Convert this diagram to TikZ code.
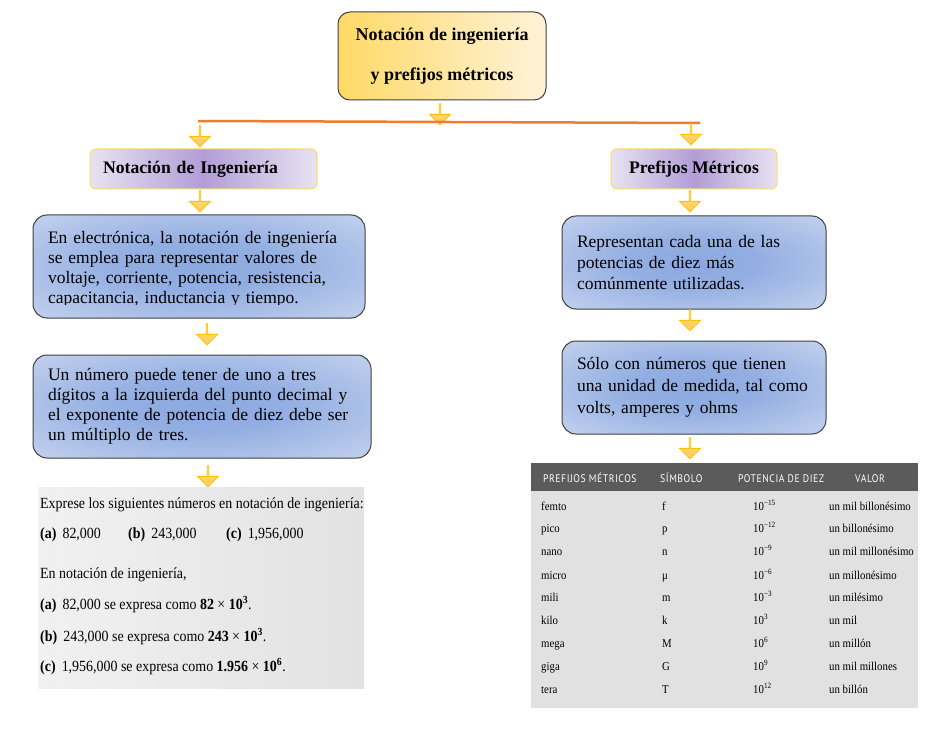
\documentclass[tikz,border=0pt]{standalone}
\usepackage{fontspec}
\setmainfont{Liberation Serif}
\newfontfamily\schmal[FakeStretch=0.9]{Liberation Serif}
\newfontfamily\kopf[FakeStretch=0.88,LetterSpace=5]{PT Sans}
\usepackage{tikz}
\usetikzlibrary{shapes.arrows}

\definecolor{rahmen}{HTML}{404040}
\definecolor{orangelinie}{HTML}{ED7D31}
\definecolor{gold}{HTML}{FFC000}
\definecolor{goldhell}{HTML}{FFE08A}
\definecolor{golddunkel}{HTML}{FFCB55}
\definecolor{titel1}{HTML}{FFD966}
\definecolor{titel2}{HTML}{FFF3D9}
\definecolor{lila1}{HTML}{B29DD6}
\definecolor{lila2}{HTML}{E8E2F1}
\definecolor{blau1}{HTML}{8CA9E0}
\definecolor{blau2}{HTML}{DCE4F4}
\definecolor{grau1}{HTML}{F1F1F1}
\definecolor{grau2}{HTML}{E2E2E2}
\definecolor{tabkopf}{HTML}{5B5B5B}
\definecolor{tabgrund}{HTML}{E1E1E1}

% Verlauf fuer die blauen Kaesten
\pgfdeclareradialshading{blauverlauf}{\pgfpoint{0bp}{0bp}}{%
  color(0bp)=(blau1); color(12bp)=(blau1!92!blau2); color(48bp)=(blau2); color(72bp)=(blau2)}

\tikzset{
  titelbox/.style={draw=rahmen, line width=1pt, rounded corners=12pt,
    left color=titel1, right color=titel2, font=\fontsize{18}{40}\selectfont\bfseries,
    align=center, inner sep=0pt},
  kopfbox/.style={draw=titel1, line width=1pt, rounded corners=6pt,
    left color=lila2, right color=lila2, middle color=lila1,
    font=\fontsize{17.7}{20}\selectfont\bfseries, inner sep=0pt},
  blaubox/.style={draw=rahmen, line width=1pt, rounded corners=14pt,
    shading=blauverlauf, align=left, inner xsep=15pt, inner ysep=0pt},
  pfeil/.style={single arrow, shape border rotate=270, draw=gold, line width=0.8pt,
    top color=goldhell, bottom color=golddunkel, minimum height=21pt,
    minimum width=21pt, single arrow head extend=5.5pt, single arrow head indent=0pt,
    inner sep=0pt},
  aufg/.style={anchor=base west, inner sep=0pt, font=\schmal\fontsize{15.5}{18}\selectfont},
  tab/.style={anchor=base west, inner sep=0pt, font=\schmal\fontsize{12}{14}\selectfont},
  tabk/.style={anchor=base west, inner sep=0pt, text=white, font=\kopf\fontsize{11}{12}\selectfont}
}

% eine Zeile der Tabelle
\newcommand{\zeile}[6]{%
  \node[tab] (#2a) at (541,#1) {#3};
  \node[tab] (#2b) at (662,#1) {#4};
  \node[tab] (#2c) at (753,#1) {#5};
  \node[tab] (#2d) at (829,#1) {#6};}

\begin{document}
\begin{tikzpicture}[x=1pt,y=-1pt]
  \useasboundingbox[fill=white] (0,0) rectangle (942,730);

  % Titel
  \node[titelbox, minimum width=208pt, minimum height=88pt] (titel) at (442,56)
    {Notación de ingeniería\\y prefijos métricos};
  \node[pfeil] (p0) at (440,114) {};

  % Verteilerlinie
  \coordinate (lA) at (198,121);
  \coordinate (lB) at (700,123);
  \draw[orangelinie, line width=2.5pt] (lA) -- (lB);
  \node[pfeil] (p1) at (200,136) {};
  \node[pfeil] (p2) at (691,134) {};

  % Kopfboxen
  \node[kopfbox, minimum width=227pt, minimum height=40pt, text width=201pt, align=left]
    (ing) at (203.5,169) {Notación de Ingeniería};
  \node[kopfbox, minimum width=166pt, minimum height=40pt]
    (pref) at (694,169) {Prefijos Métricos};
  \node[pfeil] (p3) at (200,201) {};
  \node[pfeil] (p4) at (690,201) {};

  % linke Seite
  \begin{scope}
    \node[blaubox, minimum width=332pt, minimum height=103pt, text width=302pt]
      (b1) at (199,266.5) {};
    \clip (33,215) rectangle (365,304);
    \node[align=left, text width=302pt, inner sep=0pt, font=\fontsize{17.5}{20}\selectfont]
      (t1) at (199,269) {En electrónica, la notación de ingeniería\\
      se emplea para representar valores de\\
      voltaje, corriente, potencia, resistencia,\\
      capacitancia, inductancia y tiempo.};
  \end{scope}
  \node[pfeil] (p5) at (207,334) {};
  \node[blaubox, minimum width=338pt, minimum height=103pt, text width=308pt,
    font=\fontsize{17.5}{20}\selectfont] (b2) at (202,406.5)
    {Un número puede tener de uno a tres\\
     dígitos a la izquierda del punto decimal y\\
     el exponente de potencia de diez debe ser\\
     un múltiplo de tres.};
  \node[pfeil] (p7) at (208,476) {};

  % Beispiel
  \node[left color=grau1, right color=grau2, minimum width=326pt, minimum height=201pt,
    inner sep=0pt] (bsp) at (201,587.5) {};
  \node[aufg] (e1) at (40,508) {Exprese los siguientes números en notación de ingeniería:};
  \node[aufg] (e2) at (40,538) {\textbf{(a)}\, 82,000};
  \node[aufg] (e3) at (128,538) {\textbf{(b)}\, 243,000};
  \node[aufg] (e4) at (226,538) {\textbf{(c)}\, 1,956,000};
  \node[aufg] (e5) at (40,578) {En notación de ingeniería,};
  \node[aufg] (e6) at (40,609) {\textbf{(a)}\, 82,000 se expresa como \textbf{82} × \textbf{10\textsuperscript{3}}.};
  \node[aufg] (e7) at (40,641) {\textbf{(b)}\, 243,000 se expresa como \textbf{243} × \textbf{10\textsuperscript{3}}.};
  \node[aufg] (e8) at (40,671) {\textbf{(c)}\, 1,956,000 se expresa como \textbf{1.956} × \textbf{10\textsuperscript{6}}.};

  % rechte Seite
  \node[blaubox, minimum width=264pt, minimum height=93pt, text width=234pt,
    inner xsep=15pt, font=\fontsize{17.5}{21}\selectfont] (r1) at (694,262.5)
    {Representan cada una de las\\
     potencias de diez más\\
     comúnmente utilizadas.};
  \node[pfeil] (p6) at (690,320) {};
  \node[blaubox, minimum width=264pt, minimum height=93pt, text width=234pt,
    inner xsep=15pt, font=\fontsize{17.5}{22}\selectfont] (r2) at (694,387.5)
    {Sólo con números que tienen\\
     una unidad de medida, tal como\\
     volts, amperes y ohms};
  \node[pfeil] (p8) at (690,448) {};

  % Tabelle
  \node[fill=tabgrund, minimum width=387pt, minimum height=245pt, inner sep=0pt]
    (tabelle) at (724.5,585.5) {};
  \node[fill=tabkopf, minimum width=387pt, minimum height=28pt, inner sep=0pt]
    (kopf) at (724.5,477) {};
  \node[tabk] (k1) at (543,482) {PREFIJOS MÉTRICOS};
  \node[tabk] (k2) at (660,482) {SÍMBOLO};
  \node[tabk] (k3) at (738,482) {POTENCIA DE DIEZ};
  \node[tabk] (k4) at (855,482) {VALOR};
  \zeile{510}{fe}{femto}{f}{10\textsuperscript{−15}}{un mil billonésimo}
  \zeile{532}{pi}{pico}{p}{10\textsuperscript{−12}}{un billonésimo}
  \zeile{555}{na}{nano}{n}{10\textsuperscript{−9}}{un mil millonésimo}
  \zeile{579}{mi}{micro}{μ}{10\textsuperscript{−6}}{un millonésimo}
  \zeile{601}{ml}{mili}{m}{10\textsuperscript{−3}}{un milésimo}
  \zeile{624}{ki}{kilo}{k}{10\textsuperscript{3}}{un mil}
  \zeile{647}{me}{mega}{M}{10\textsuperscript{6}}{un millón}
  \zeile{670}{gi}{giga}{G}{10\textsuperscript{9}}{un mil millones}
  \zeile{693}{te}{tera}{T}{10\textsuperscript{12}}{un billón}
\end{tikzpicture}
\end{document}
